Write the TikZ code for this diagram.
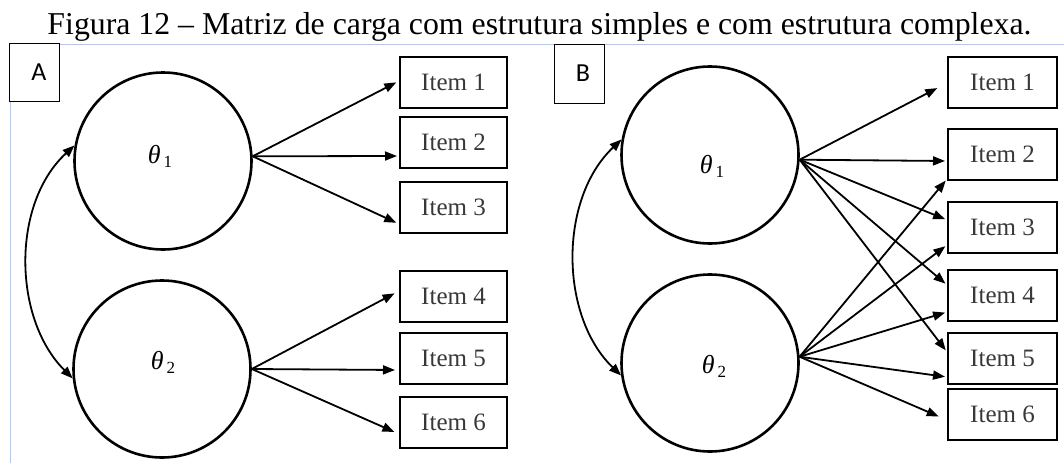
\documentclass[tikz,border=0pt]{standalone}
\usepackage{fontspec}
\setmainfont{Liberation Serif}
\newfontfamily\labfont{Carlito}
\usetikzlibrary{arrows.meta}
\definecolor{frameblue}{RGB}{184,199,228}
\begin{document}
\begin{tikzpicture}[x=1pt,y=1pt,
  lat/.style={circle,draw,line width=2.6pt,minimum size=177pt,inner sep=0pt},
  thlab/.style={inner sep=0pt,font=\fontsize{26}{26}\selectfont},
  itembox/.style={draw,line width=2pt,minimum width=107pt,minimum height=51pt,inner sep=0pt,font=\fontsize{25}{25}\selectfont,text=black!78},
  labbox/.style={draw,line width=1pt,fill=white,inner sep=0pt,font=\labfont\fontsize{26}{26}\selectfont},
  load/.style={line width=1.8pt,-{Triangle[length=12pt,width=9pt]}},
  cov/.style={line width=1.8pt,{Triangle[length=12pt,width=9pt]}-{Triangle[length=12pt,width=9pt]}},
  frame/.style={draw=frameblue,line width=1.4pt}
]
\useasboundingbox (0,0) rectangle (1064,-463);
% title
\node[anchor=base,inner sep=0pt,font=\fontsize{31.8}{32}\selectfont] (title) at (539.5,-34)
  {Figura 12 – Matriz de carga com estrutura simples e com estrutura complexa.};
% frame lines
\coordinate (fc) at (10.5,-44.5);
\coordinate (fr) at (1064,-44.5);
\coordinate (fb) at (10.5,-463);
\draw[frame] (fr) -- (fc) -- (fb);
% panel labels
\node[labbox,minimum width=50pt,minimum height=58pt] (boxA) at (34,-72) {\hspace*{10pt}A};
\node[labbox,minimum width=50pt,minimum height=59pt] (boxB) at (579,-73.5) {\hspace*{8pt}B};

% ---------- Panel A ----------
\node[lat] (t1A) at (163,-161) {};
\node[lat] (t2A) at (162,-369) {};
\node[thlab] (l1A) at (160,-156) {\textit{θ}\hspace{3pt}\raisebox{-4pt}{\fontsize{17}{17}\selectfont 1}};
\node[thlab] (l2A) at (163,-362) {\textit{θ}\hspace{3pt}\raisebox{-4pt}{\fontsize{17}{17}\selectfont 2}};
\node[itembox] (iA1) at (453.5,-82) {Item 1};
\node[itembox] (iA2) at (453.5,-142) {Item 2};
\node[itembox] (iA3) at (453.5,-207) {Item 3};
\node[itembox] (iA4) at (453.5,-296) {Item 4};
\node[itembox] (iA5) at (453.5,-358) {Item 5};
\node[itembox] (iA6) at (453.5,-422) {Item 6};
\draw[load,shorten >=3pt] (t1A.3) -- ([yshift=1pt]iA1.west);
\draw[load,shorten >=2pt] (t1A.3) -- ([yshift=-14pt]iA2.west);
\draw[load,shorten >=3pt] (t1A.3) -- ([yshift=-17pt]iA3.west);
\draw[load,shorten >=5pt] (t2A.east) -- ([yshift=5pt]iA4.west);
\draw[load,shorten >=4pt] (t2A.east) -- ([yshift=-12pt]iA5.west);
\draw[load,shorten >=5pt] (t2A.east) -- ([yshift=-12pt]iA6.west);
\draw[cov] (t1A.170) .. controls (11,-204) and (13,-319) .. (t2A.186);

% ---------- Panel B ----------
\node[lat] (t1B) at (710,-155) {};
\node[lat] (t2B) at (710,-363) {};
\node[thlab] (l1B) at (712,-166) {\textit{θ}\hspace{3pt}\raisebox{-4pt}{\fontsize{17}{17}\selectfont 1}};
\node[thlab] (l2B) at (714,-366) {\textit{θ}\hspace{3pt}\raisebox{-4pt}{\fontsize{17}{17}\selectfont 2}};
\node[itembox,minimum width=109pt] (iB1) at (1002.5,-82) {Item 1};
\node[itembox,minimum width=109pt] (iB2) at (1002.5,-154) {Item 2};
\node[itembox,minimum width=109pt] (iB3) at (1002.5,-227.5) {Item 3};
\node[itembox,minimum width=109pt] (iB4) at (1002.5,-295.5) {Item 4};
\node[itembox,minimum width=109pt] (iB5) at (1002.5,-358.5) {Item 5};
\node[itembox,minimum width=109pt] (iB6) at (1002.5,-414) {Item 6};
\draw[load,shorten >=11pt] (t1B.-3) -- ([yshift=-1pt]iB1.west);
\draw[load,shorten >=2pt] (t1B.-3) -- ([yshift=-7pt]iB2.west);
\draw[load,shorten >=2pt] (t1B.-3) -- ([yshift=7.5pt]iB3.west);
\draw[load,shorten >=2pt] (t1B.-3) -- ([yshift=10.5pt]iB4.west);
\draw[load,shorten >=2pt] (t1B.-3) -- ([yshift=6.5pt]iB5.west);
\draw[load,shorten >=2pt] (t2B.4) -- ([yshift=-25pt]iB2.west);
\draw[load,shorten >=2pt] (t2B.4) -- ([yshift=-17.5pt]iB3.west);
\draw[load,shorten >=2pt] (t2B.4) -- ([yshift=-16.5pt]iB4.west);
\draw[load,shorten >=2pt] (t2B.4) -- ([yshift=-18.5pt]iB5.west);
\draw[load,shorten >=9pt] (t2B.4) -- ([yshift=-6pt]iB6.west);
\draw[cov] (t1B.170) .. controls (558.5,-199) and (559.5,-316) .. (t2B.188);
\end{tikzpicture}
\end{document}
